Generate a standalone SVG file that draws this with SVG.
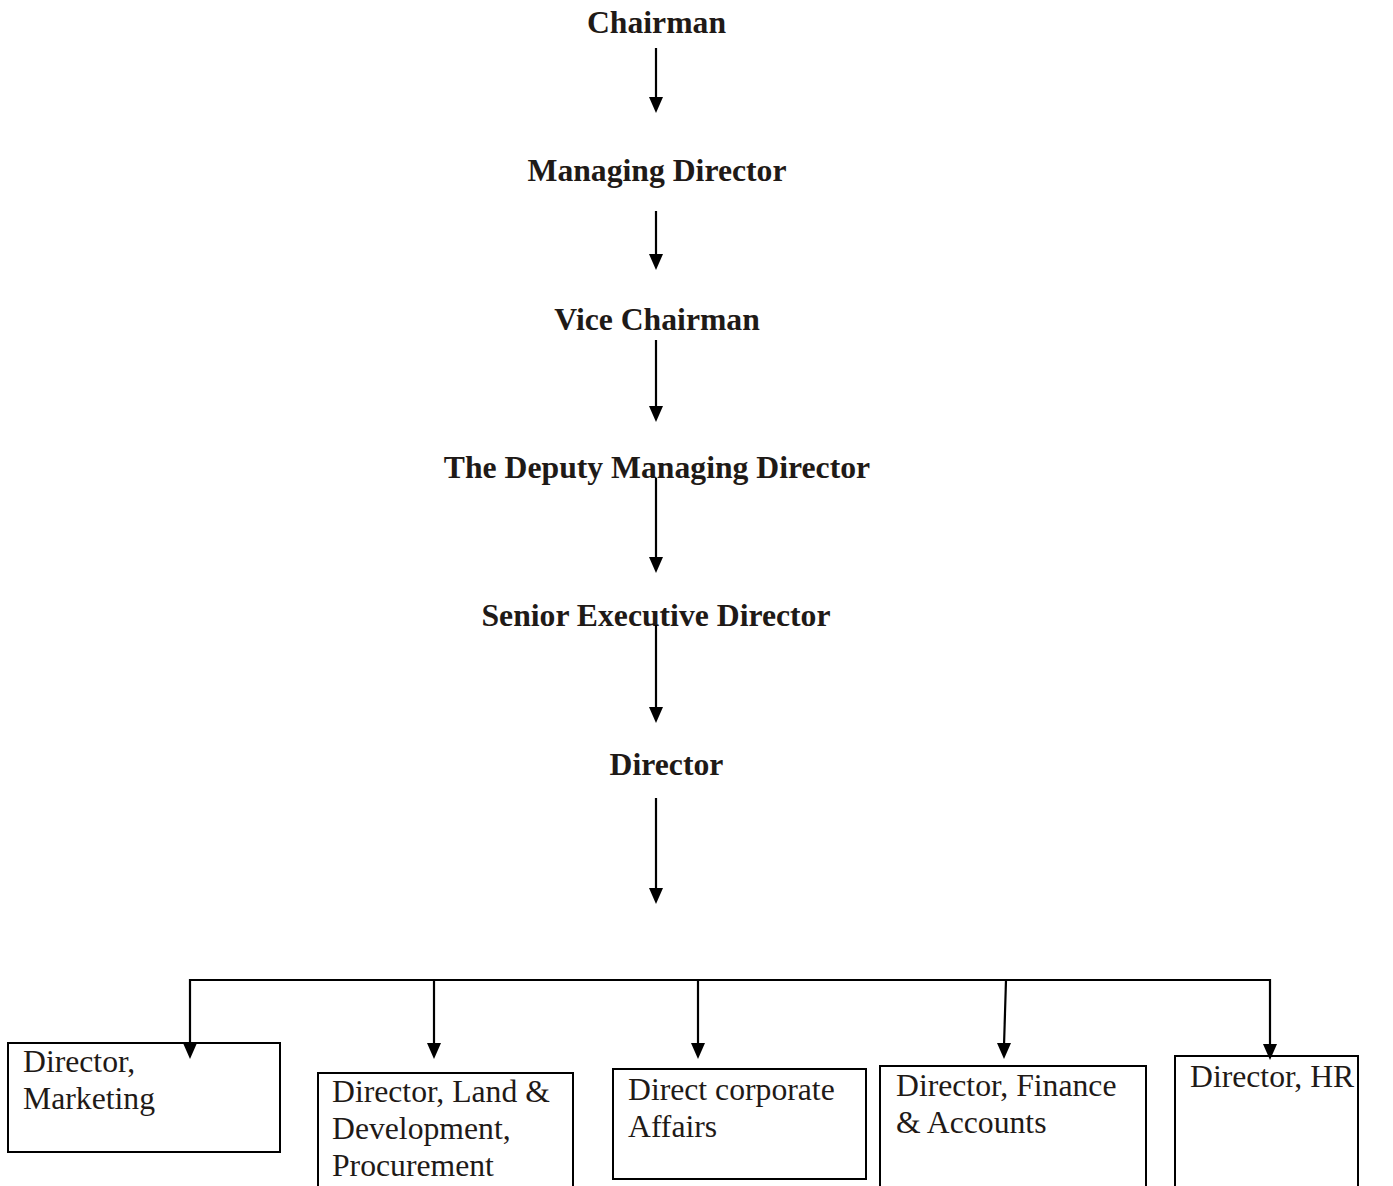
<svg xmlns="http://www.w3.org/2000/svg" width="1393" height="1186" viewBox="0 0 1393 1186">
<style>
.t{font-family:"Liberation Serif","Times New Roman",serif;font-weight:bold;font-size:31.7px;fill:#1f1a17;text-anchor:middle}
.b{font-family:"Liberation Serif","Times New Roman",serif;font-size:31.7px;fill:#1f1a17}
.box{fill:#fff;stroke:#000;stroke-width:2}
.c{stroke:#000;stroke-width:2.2;fill:none}
</style>
<defs>
<path id="ah" d="M-7,-16 L7,-16 L0,0 Z" fill="#000"/>
</defs>
<rect width="1393" height="1186" fill="#fff"/>
<g id="chairman"><text class="t" x="656.5" y="33">Chairman</text></g>
<g id="managing-director"><text class="t" x="657" y="181">Managing Director</text></g>
<g id="vice-chairman"><text class="t" x="657" y="330">Vice Chairman</text></g>
<g id="deputy-md"><text class="t" x="657" y="478">The Deputy Managing Director</text></g>
<g id="senior-exec"><text class="t" x="656" y="626">Senior Executive Director</text></g>
<g id="director"><text class="t" x="666.5" y="775">Director</text></g>
<g id="dir-marketing"><rect class="box" x="8" y="1043" width="272" height="109"/><text class="b" x="23" y="1072">Director,</text><text class="b" x="23" y="1109">Marketing</text></g>
<g id="dir-land"><rect class="box" x="318" y="1073" width="255" height="120"/><text class="b" x="332" y="1102">Director, Land &amp;</text><text class="b" x="332" y="1139">Development,</text><text class="b" x="332" y="1176">Procurement</text></g>
<g id="dir-corporate"><rect class="box" x="613" y="1069" width="253" height="110"/><text class="b" x="628" y="1100">Direct corporate</text><text class="b" x="628" y="1137">Affairs</text></g>
<g id="dir-finance"><rect class="box" x="880" y="1066" width="266" height="130"/><text class="b" x="896" y="1096">Director, Finance</text><text class="b" x="896" y="1133">&amp; Accounts</text></g>
<g id="dir-hr"><rect class="box" x="1175" y="1056" width="183" height="140"/><text class="b" x="1190" y="1087">Director, HR</text></g>
<g id="connectors">
<line class="c" x1="656" y1="48" x2="656" y2="100"/><use href="#ah" x="656" y="113"/>
<line class="c" x1="656" y1="211" x2="656" y2="257"/><use href="#ah" x="656" y="270"/>
<line class="c" x1="656" y1="340" x2="656" y2="409"/><use href="#ah" x="656" y="422"/>
<line class="c" x1="656" y1="478" x2="656" y2="560"/><use href="#ah" x="656" y="573"/>
<line class="c" x1="656" y1="625" x2="656" y2="710"/><use href="#ah" x="656" y="723"/>
<line class="c" x1="656" y1="798" x2="656" y2="891"/><use href="#ah" x="656" y="904"/>
<polyline class="c" points="190,1046 190,980 1270,980 1270,1047"/>
<use href="#ah" x="190" y="1059"/>
<line class="c" x1="434" y1="980" x2="434" y2="1046"/><use href="#ah" x="434" y="1059"/>
<line class="c" x1="698" y1="980" x2="698" y2="1046"/><use href="#ah" x="698" y="1059"/>
<line class="c" x1="1006" y1="980" x2="1004" y2="1046"/><use href="#ah" x="1004" y="1059"/>
<use href="#ah" x="1270" y="1060"/>
</g>
</svg>
